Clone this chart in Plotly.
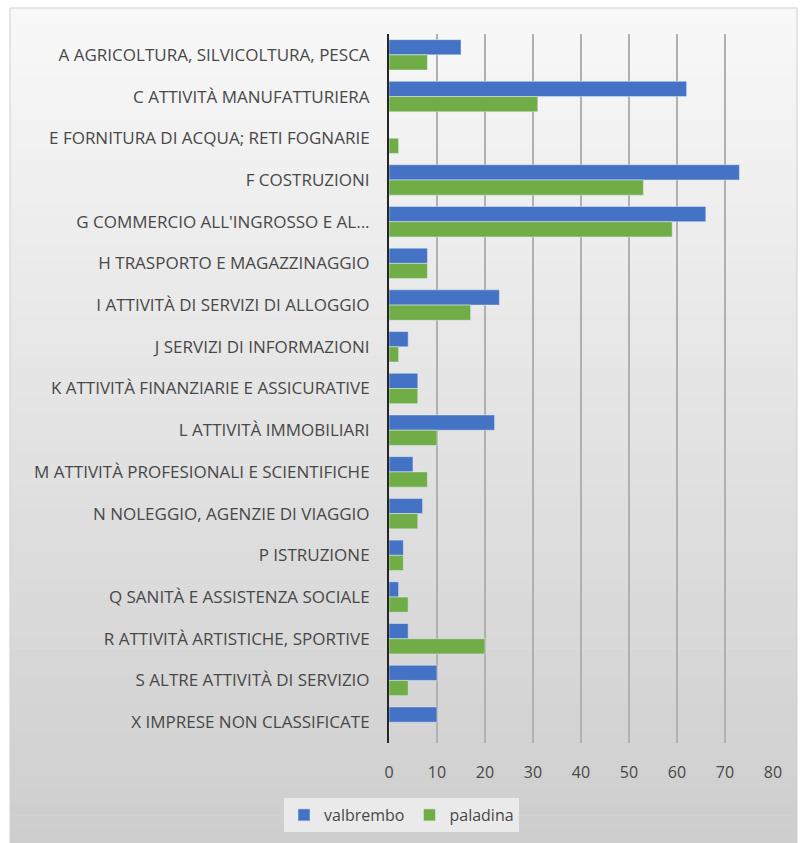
import plotly.graph_objects as go

# Sectors of activity (ATECO sections) and number of businesses per town
categories = [
    "A AGRICOLTURA, SILVICOLTURA, PESCA",
    "C ATTIVITÀ MANUFATTURIERA",
    "E FORNITURA DI ACQUA; RETI FOGNARIE",
    "F COSTRUZIONI",
    "G COMMERCIO ALL'INGROSSO E AL...",
    "H TRASPORTO E MAGAZZINAGGIO",
    "I ATTIVITÀ DI SERVIZI DI ALLOGGIO",
    "J SERVIZI DI INFORMAZIONI",
    "K ATTIVITÀ FINANZIARIE E ASSICURATIVE",
    "L ATTIVITÀ IMMOBILIARI",
    "M ATTIVITÀ PROFESIONALI E SCIENTIFICHE",
    "N NOLEGGIO, AGENZIE DI VIAGGIO",
    "P ISTRUZIONE",
    "Q SANITÀ E ASSISTENZA SOCIALE",
    "R ATTIVITÀ ARTISTICHE, SPORTIVE",
    "S ALTRE ATTIVITÀ DI SERVIZIO",
    "X IMPRESE NON CLASSIFICATE",
]
valbrembo = [15, 62, 0, 73, 66, 8, 23, 4, 6, 22, 5, 7, 3, 2, 4, 10, 10]
paladina = [8, 31, 2, 53, 59, 8, 17, 2, 6, 10, 8, 6, 3, 4, 20, 4, 0]
x_ticks = [0, 10, 20, 30, 40, 50, 60, 70, 80]

W, H = 803, 843
ML, MR, MT, MB = 389, 30, 34, 100
pw, ph = W - ML - MR, H - MT - MB

FONT = "Open Sans"
TEXT = "#484848"

fig = go.Figure()
fig.add_trace(go.Bar(y=categories, x=valbrembo, name="valbrembo",
                     orientation="h", marker=dict(color="#4472C4")))
fig.add_trace(go.Bar(y=categories, x=paladina, name="paladina",
                     orientation="h", marker=dict(color="#70AD47")))

# Chart-area background: soft vertical gradient made of thin strips
def px_to_paper_x(px):
    return (px - ML) / pw

def px_to_paper_y(py):
    return 1 - (py - MT) / ph

shapes = []
box_l, box_r, box_t, box_b = 10, 797, 8, 843
n = 60
for i in range(n):
    y0 = box_t + (box_b - box_t) * i / n
    y1 = box_t + (box_b - box_t) * (i + 1) / n + 0.6
    t = i / (n - 1)
    g = int(round(248 - 42 * t))
    shapes.append(dict(type="rect", xref="paper", yref="paper", layer="below",
                       x0=px_to_paper_x(box_l), x1=px_to_paper_x(box_r),
                       y0=px_to_paper_y(y1), y1=px_to_paper_y(y0),
                       line=dict(width=0), fillcolor=f"rgb({g},{g},{g})"))
shapes.append(dict(type="rect", xref="paper", yref="paper", layer="below",
                   x0=px_to_paper_x(box_l), x1=px_to_paper_x(box_r),
                   y0=px_to_paper_y(box_b + 2), y1=px_to_paper_y(box_t),
                   line=dict(width=1, color="#cfcfcf"),
                   fillcolor="rgba(0,0,0,0)"))

fig.update_layout(
    width=W, height=H,
    margin=dict(l=ML, r=MR, t=MT, b=MB),
    paper_bgcolor="white",
    plot_bgcolor="rgba(0,0,0,0)",
    barmode="group",
    bargap=0.27,
    bargroupgap=0.0,
    font=dict(family=FONT, size=15, color=TEXT),
    shapes=shapes,
    showlegend=True,
    legend=dict(orientation="h", xref="container", yref="container",
                x=0.5, xanchor="center", y=1 - 815 / H, yanchor="middle",
                bgcolor="#eaeaea", font=dict(family=FONT, size=16, color=TEXT),
                itemwidth=30, traceorder="normal"),
    xaxis=dict(range=[0, 80], tickvals=x_ticks, showgrid=True,
               gridcolor="#b0b0b0", gridwidth=2, zeroline=False,
               showline=False, ticks="", ticklabelstandoff=18,
               tickfont=dict(size=16, color=TEXT)),
    yaxis=dict(autorange="reversed", showgrid=False, showline=True,
               linecolor="#262626", linewidth=2, ticks="",
               ticklabelstandoff=14,
               tickfont=dict(size=17, color=TEXT)),
)

fig.write_html("out.html")
